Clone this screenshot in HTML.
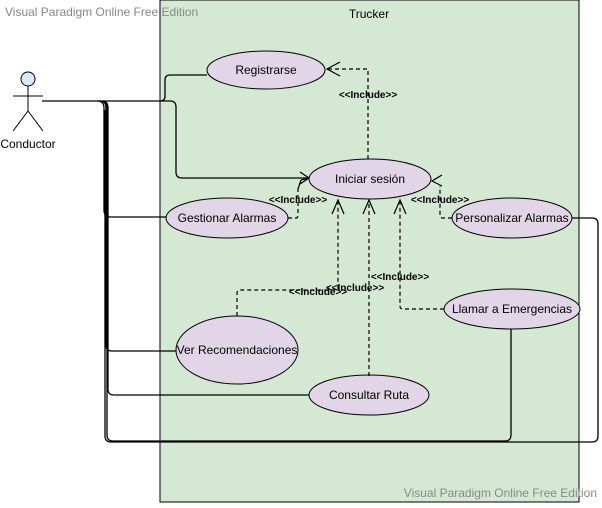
<!DOCTYPE html>
<html><head><style>
body{margin:0;width:602px;height:503px;overflow:hidden;background:#fff}
svg text{font-family:"Liberation Sans",sans-serif}
</style></head><body>
<svg width="602" height="503" xmlns="http://www.w3.org/2000/svg">
<rect x="160" y="0" width="419" height="502" fill="#d5e8d4" stroke="#000"/>
<text x="369" y="18" font-size="12" text-anchor="middle">Trucker</text>
<text x="5" y="16" font-size="12" fill="#888">Visual Paradigm Online Free Edition</text>
<text x="597" y="497" font-size="12" fill="#888" text-anchor="end">Visual Paradigm Online Free Edition</text>
<!-- actor -->
<g stroke="#000" fill="none" stroke-width="1">
<circle cx="28" cy="79" r="7" fill="#dae8fc"/>
<path d="M28 86V111M13 96H43M28 111L13 131M28 111L43 131"/>
</g>
<text x="28" y="148" font-size="12" text-anchor="middle">Conductor</text>
<!-- association lines -->
<g stroke="#000" fill="none" stroke-width="1.3">
<path d="M42 101H160Q165 101 165 96V80Q165 75 170 75H207"/>
<path d="M160 101H170Q176 101 176 107V172Q176 178 182 178H309"/>
<path d="M300 172L309 178L300 184"/>
<path d="M97 101Q104 101 104 108V210Q104 217 111 217H167"/>
<path d="M100 101Q106 101 106 108V345Q106 351 112 351H176"/>
<path d="M102 101Q108 101 108 108V389Q108 395 114 395H309"/>
<path d="M103 101Q107 101 107 108V435Q107 441 113 441H505Q511 441 511 435V329"/>
<path d="M572 218H592Q598 218 598 224V436Q598 442 592 442H111Q105 442 105 436V110"/>
</g>
<!-- ellipses -->
<g stroke="#000" fill="#e1d5e7" stroke-width="1">
<ellipse cx="266" cy="70" rx="59" ry="19"/>
<ellipse cx="370" cy="179" rx="61" ry="20"/>
<ellipse cx="227" cy="218" rx="61" ry="20"/>
<ellipse cx="512" cy="218" rx="60" ry="20"/>
<ellipse cx="512" cy="309" rx="68" ry="20"/>
<ellipse cx="237" cy="350" rx="61" ry="34"/>
<ellipse cx="369" cy="395" rx="60" ry="20"/>
</g>
<g font-size="12" text-anchor="middle">
<text x="266" y="74">Registrarse</text>
<text x="370" y="183">Iniciar sesión</text>
<text x="227" y="222">Gestionar Alarmas</text>
<text x="512" y="222">Personalizar Alarmas</text>
<text x="512" y="313">Llamar a Emergencias</text>
<text x="237" y="354">Ver Recomendaciones</text>
<text x="369" y="399">Consultar Ruta</text>
</g>
<!-- dashed includes -->
<g stroke="#000" fill="none" stroke-width="1.2" stroke-dasharray="4 3">
<path d="M368 159V69H328"/>
<path d="M288 218H296Q298 218 298 215V186"/>
<path d="M452 218H443Q440 218 440 215V186"/>
<path d="M237 316V293Q237 290 240 290H336Q338 290 338 287V202"/>
<path d="M369 376V202"/>
<path d="M444 309H403Q400 309 400 306V202"/>
</g>
<g stroke="#000" fill="none" stroke-width="1.2">
<path d="M340 62L327 69L340 76"/>
<path d="M298 189L301 180M301 180L309 178" />
<path d="M442 186L432 181L442 175"/>
<path d="M332 214L338 200L344 214"/>
<path d="M363 214L369 200L375 214"/>
<path d="M394 214L400 200L406 214"/>
</g>
<g font-size="10" text-anchor="middle" font-weight="bold">
<text x="368" y="98">&lt;&lt;Include&gt;&gt;</text>
<text x="298" y="203">&lt;&lt;Include&gt;&gt;</text>
<text x="440" y="203">&lt;&lt;Include&gt;&gt;</text>
<text x="400" y="280">&lt;&lt;Include&gt;&gt;</text>
<text x="318" y="295">&lt;&lt;Include&gt;&gt;</text>
<text x="355" y="291">&lt;&lt;Include&gt;&gt;</text>
</g>
</svg>
</body></html>
